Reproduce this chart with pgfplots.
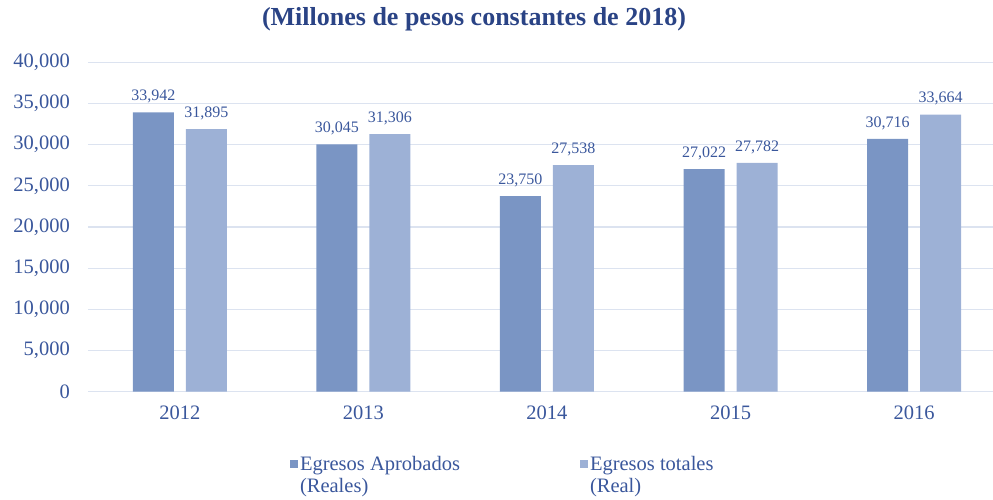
\documentclass[border=0pt]{standalone}
\usepackage{fontspec}
\setmainfont{Liberation Serif}
\usepackage{pgfplots}
\pgfplotsset{compat=1.18}
\definecolor{barA}{HTML}{7A95C4}
\definecolor{barB}{HTML}{9DB1D6}
\definecolor{txtA}{HTML}{2A4385}
\definecolor{txtB}{HTML}{3A579C}
\definecolor{gridc}{HTML}{DCE3F0}
\begin{document}
\begin{tikzpicture}[x=1pt,y=1pt]
\useasboundingbox (0,0) rectangle (993,499);
\begin{axis}[
  at={(88pt,107.5pt)}, anchor=south west,
  scale only axis, width=905pt, height=329pt,
  ybar, bar width=41pt,
  xmin=-0.5, xmax=4.43, ymin=0, ymax=40000,
  xtick={0,1,2,3,4}, xticklabels={2012,2013,2014,2015,2016},
  ytick={0,5000,10000,15000,20000,25000,30000,35000,40000},
  /pgf/number format/.cd, 1000 sep={,}, assume math mode=true, /pgfplots/.cd,
  scaled y ticks=false,
  ymajorgrids, grid style={gridc, line width=1.2pt},
  axis line style={draw=none},
  axis x line*=bottom,
  major tick length=0pt,
  tick style={draw=none},
  yticklabel style={font=\fontsize{20.5}{22}\selectfont, text=txtB, anchor=east, inner sep=0pt, xshift=-18pt},
  xticklabel style={font=\fontsize{20.5}{22}\selectfont, text=txtB, anchor=north, inner sep=0pt, yshift=-14pt},
  nodes near coords,
  every node near coord/.append style={font=\fontsize{16}{18}\selectfont, text=txtB, inner sep=0pt, yshift=9pt},
  title={\fontsize{26}{30}\selectfont\bfseries (Millones de pesos constantes de 2018)},
  title style={text=txtA, at={(0.4265,1.095)}, anchor=base, inner sep=0pt},
  legend columns=2,
  legend style={draw=none, fill=none, at={(0.223,-0.171)}, anchor=north west, inner sep=0pt,
    font=\fontsize{20.5}{22}\selectfont, text=txtB,
    /tikz/every even column/.style={column sep=118pt},
    cells={anchor=north west, align=left}},
  legend image code/.code={\path (0pt,6pt); \fill[#1,draw=none] (0pt,-14pt) rectangle (8pt,-6pt);},
]
\addplot[fill=barA, draw=none, bar shift=-26.5pt] coordinates {(0,33942) (1,30045) (2,23750) (3,27022) (4,30716)};
\addlegendentry{Egresos Aprobados\\(Reales)}
\addplot[fill=barB, draw=none, bar shift=26.5pt] coordinates {(0,31895) (1,31306) (2,27538) (3,27782) (4,33664)};
\addlegendentry{Egresos totales\\(Real)}
\end{axis}
\end{tikzpicture}
\end{document}
